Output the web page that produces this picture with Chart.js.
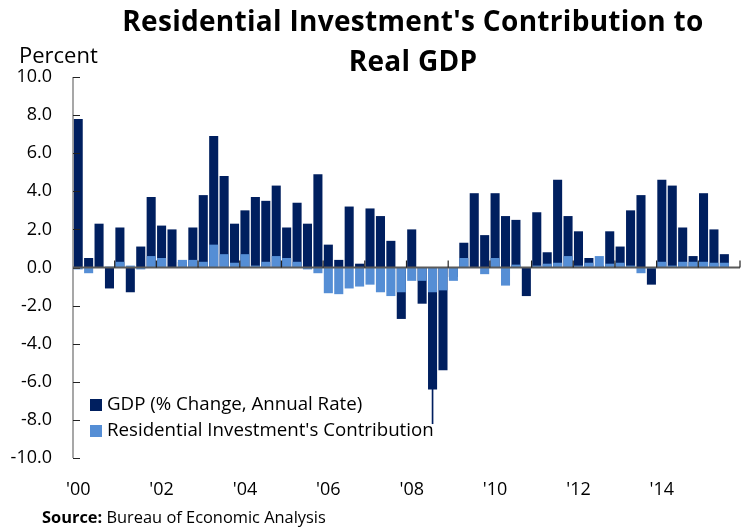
<!DOCTYPE html>
<html>
<head>
<meta charset="utf-8">
<script src="https://cdn.jsdelivr.net/npm/chart.js@4/dist/chart.umd.min.js"></script>
<style>
  html, body { margin: 0; padding: 0; background: #fff; }
  #wrap { position: relative; width: 744px; height: 529px; overflow: hidden; font-family: "Open Sans", "Noto Sans", sans-serif; color: #000; }
  #c { position: absolute; left: 0; top: 0; }
  #title { position: absolute; left: 83px; width: 660px; top: 0px; text-align: center; font-weight: 700; font-size: 28px; line-height: 40px; letter-spacing: 0.3px; }
  #unit { position: absolute; left: 19px; top: 39px; font-size: 22px; }
  #legend { position: absolute; left: 90px; top: 390px; font-size: 18.7px; }
  .li { height: 26px; line-height: 26px; white-space: nowrap; }
  .sw { display: inline-block; width: 12px; height: 12px; margin-right: 5px; vertical-align: -1px; }
  #source { position: absolute; left: 42px; top: 505px; font-size: 16.4px; }
</style>
</head>
<body>
<div id="wrap">
  <canvas id="c" width="744" height="529"></canvas>
  <div id="title">Residential Investment's Contribution to<br>Real GDP</div>
  <div id="unit">Percent</div>
  <div id="legend">
    <div class="li"><span class="sw" style="background:#001f5f"></span>GDP (% Change, Annual Rate)</div>
    <div class="li"><span class="sw" style="background:#558ed5"></span>Residential Investment's Contribution</div>
  </div>
  <div id="source"><b>Source:</b> Bureau of Economic Analysis</div>
</div>
<script>
// Quarterly values, first quarter of 2000 onward (one empty slot at the end of the axis)
const yearLabels = ["'00", "'02", "'04", "'06", "'08", "'10", "'12", "'14"];
const gdpChange = [
  7.8, 0.5, 2.3, -1.1,
  2.1, -1.3, 1.1, 3.7,
  2.2, 2.0, 0.3, 2.1,
  3.8, 6.9, 4.8, 2.3,
  3.0, 3.7, 3.5, 4.3,
  2.1, 3.4, 2.3, 4.9,
  1.2, 0.4, 3.2, 0.2,
  3.1, 2.7, 1.4, -2.7,
  2.0, -1.9, -6.4, -5.4,
  -0.5, 1.3, 3.9, 1.7,
  3.9, 2.7, 2.5, -1.5,
  2.9, 0.8, 4.6, 2.7,
  1.9, 0.5, 0.1, 1.9,
  1.1, 3.0, 3.8, -0.9,
  4.6, 4.3, 2.1, 0.6,
  3.9, 2.0, 0.7
];
const residentialContribution = [
  -0.1, -0.3, 0.0, 0.05,
  0.3, 0.1, -0.1, 0.6,
  0.5, 0.0, 0.4, 0.4,
  0.3, 1.2, 0.7, 0.25,
  0.7, 0.1, 0.3, 0.6,
  0.5, 0.3, -0.1, -0.3,
  -1.35, -1.4, -1.1, -1.0,
  -0.9, -1.3, -1.5, -1.3,
  -0.7, -0.7, -1.3, -1.2,
  -0.7, 0.5, 0.0, -0.35,
  0.5, -0.95, 0.15, 0.0,
  0.1, 0.2, 0.25, 0.6,
  0.1, 0.25, 0.6, 0.2,
  0.25, 0.1, -0.3, -0.05,
  0.3, 0.1, 0.3, 0.3,
  0.3, 0.25, 0.25
];
// thin spike seen at the 2008 trough
const gdpSpike = [];
gdpSpike[34] = -8.2;

const slots = 64;
const quarterLabels = [];
for (let i = 0; i < slots; i++) quarterLabels.push((2000 + Math.floor(i / 4)) + ' Q' + (i % 4 + 1));

const axisPlugin = {
  id: 'axisPlugin',
  afterDatasetsDraw(chart) {
    const ctx = chart.ctx, x = chart.scales.x, y = chart.scales.y, a = chart.chartArea;
    ctx.save();
    // y axis line
    ctx.strokeStyle = '#8a8a8a';
    ctx.lineWidth = 1.5;
    ctx.beginPath(); ctx.moveTo(a.left, a.top); ctx.lineTo(a.left, a.bottom); ctx.stroke();
    // inward y ticks
    ctx.strokeStyle = '#222';
    ctx.lineWidth = 1;
    y.ticks.forEach(t => {
      const py = Math.round(y.getPixelForValue(t.value)) + 0.5;
      ctx.beginPath(); ctx.moveTo(a.left, py); ctx.lineTo(a.left + 7, py); ctx.stroke();
    });
    // zero line
    const zy = y.getPixelForValue(0);
    ctx.strokeStyle = '#5a5a5a';
    ctx.lineWidth = 2;
    ctx.beginPath(); ctx.moveTo(a.left, zy); ctx.lineTo(a.right, zy); ctx.stroke();
    // year ticks on zero line
    ctx.strokeStyle = '#222';
    ctx.lineWidth = 1.2;
    const w = (x.getPixelForValue(1) - x.getPixelForValue(0));
    for (let i = 4; i <= slots; i += 4) {
      const px = x.getPixelForValue(i) - w / 2;
      ctx.beginPath(); ctx.moveTo(px, zy); ctx.lineTo(px, zy - 7); ctx.stroke();
    }
    ctx.restore();
  }
};

new Chart(document.getElementById('c'), {
  type: 'bar',
  data: {
    labels: quarterLabels,
    datasets: [
      { label: 'GDP (% Change, Annual Rate)', data: gdpChange, backgroundColor: '#001f5f', order: 2, grouped: false, barPercentage: 0.87, categoryPercentage: 1 },
      { label: 'spike', data: gdpSpike, backgroundColor: '#001f5f', order: 3, grouped: false, barThickness: 1 },
      { label: "Residential Investment's Contribution", data: residentialContribution, backgroundColor: '#558ed5', order: 1, grouped: false, barPercentage: 0.87, categoryPercentage: 1 }
    ]
  },
  options: {
    responsive: false,
    animation: false,
    layout: { padding: { top: 77, right: 4, left: 0, bottom: 0 } },
    plugins: { legend: { display: false }, tooltip: { enabled: false }, title: { display: false } },
    scales: {
      x: {
        offset: true,
        grid: { display: true, drawOnChartArea: false, drawTicks: true, tickLength: 21, tickColor: 'rgba(0,0,0,0)', color: 'rgba(0,0,0,0)' },
        border: { display: false },
        ticks: {
          autoSkip: false, maxRotation: 0, minRotation: 0, padding: 0,
          color: '#000', font: { family: 'Open Sans', size: 18 },
          callback: (v, i) => (i % 8 === 0 ? yearLabels[i / 8] : '')
        },
        afterFit: s => { s.height = 71; }
      },
      y: {
        min: -10, max: 10,
        grid: { display: true, drawOnChartArea: false, drawTicks: true, tickLength: 21, tickColor: 'rgba(0,0,0,0)', color: 'rgba(0,0,0,0)' },
        border: { display: false },
        ticks: {
          stepSize: 2, padding: 0, color: '#000', font: { family: 'Open Sans', size: 18 },
          callback: v => v.toFixed(1)
        },
        afterFit: s => { s.width = 73; }
      }
    }
  },
  plugins: [axisPlugin]
});
</script>
</body>
</html>
